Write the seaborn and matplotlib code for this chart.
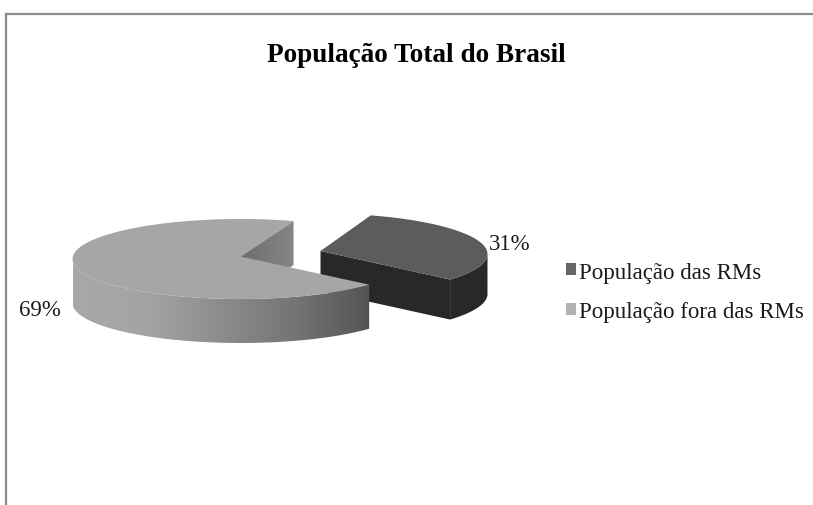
import numpy as np
import matplotlib
matplotlib.use("Agg")
import matplotlib.pyplot as plt
from matplotlib.patches import Polygon, Patch
import seaborn as sns

title = "População Total do Brasil"
categories = ["População das RMs", "População fora das RMs"]
shares = [31, 69]

sns.set_theme(style="white")
plt.rcParams["font.family"] = ["Liberation Serif", "DejaVu Serif"]

W, H = 813, 506
fig = plt.figure(figsize=(W / 100, H / 100), dpi=100)
L, T = 6, 15
ax = fig.add_axes([L / W, 0, (W - L) / W, (H - T) / H])
for side in ("right", "bottom"):
    ax.spines[side].set_visible(False)
for side in ("left", "top"):
    ax.spines[side].set_color("#8c8c8c")
    ax.spines[side].set_linewidth(1.6)
ax.set_xticks([])
ax.set_yticks([])

# layout of the two slices: first angle, ellipse centre, apex, radii, depth
STARTS = [17.5, 130.0]
CENTERS = [(320.5, 255.0), (240.5, 260.0)]
APEXES = [(320.5, 252.0), (240.5, 257.5)]
RXS = [167, 168]
RYS = [40.5, 40]
DEPTHS = [40, 44]
TOP_COL = ["#5c5c5c", "#a6a6a6"]


def arc(i, a0, a1, n=160):
    t = np.radians(np.linspace(a0, a1, n))
    c = CENTERS[i]
    return np.column_stack([c[0] + RXS[i] * np.sin(t), c[1] - RYS[i] * np.cos(t)])


def gradient(poly, cols, zorder):
    xs, ys = poly[:, 0], poly[:, 1]
    cmap = matplotlib.colors.LinearSegmentedColormap.from_list("g", sns.blend_palette(cols, 16))
    im = ax.imshow(np.linspace(0, 1, 256)[None, :], cmap=cmap, aspect="auto",
                   extent=(xs.min(), xs.max(), ys.max(), ys.min()), zorder=zorder)
    im.set_clip_path(Polygon(poly, transform=ax.transData))


sweeps = [s / sum(shares) * 360 for s in shares]

# slice of the metropolitan regions (behind)
i = 0
p, d = APEXES[i], DEPTHS[i]
a0, a1 = STARTS[i], STARTS[i] + sweeps[i]
rim = arc(i, 90, a1)
ax.add_patch(Polygon(np.vstack([rim, (rim + [0, d])[::-1]]), fc="#282828", ec="none", zorder=2))
end = arc(i, a1, a1, 1)[0]
ax.add_patch(Polygon([p, end, (end[0], end[1] + d), (p[0], p[1] + d)], fc="#282828", ec="none", zorder=2))
ax.add_patch(Polygon(np.vstack([[p], arc(i, a0, a1)]), fc=TOP_COL[i], ec="none", zorder=3))

# slice outside the metropolitan regions (front)
i = 1
p, d = APEXES[i], DEPTHS[i]
a0, a1 = STARTS[i], STARTS[i] + sweeps[i]
st = arc(i, a1, a1, 1)[0]
wall = np.array([p, st, (st[0], st[1] + d), (p[0], p[1] + d)])
gradient(wall, ["#6e6e6e", "#868686"], 4)
rim = arc(i, a0, 270)
gradient(np.vstack([rim, (rim + [0, d])[::-1]]), ["#a8a8a8", "#a4a4a4", "#8c8c8c", "#747474", "#555555"], 5)
ax.add_patch(Polygon(np.vstack([[p], arc(i, a0, a1)]), fc=TOP_COL[i], ec="none", zorder=6))

ax.set_xlim(L, W)
ax.set_ylim(H, T)

ax.text(416, 55, title, ha="center", va="center", fontsize=19.6, fontweight="bold", color="black")
ax.text(509.5, 245, f"{shares[0]}%", ha="center", va="center", fontsize=16.5, color="#1a1a1a")
ax.text(40, 310, f"{shares[1]}%", ha="center", va="center", fontsize=16.5, color="#1a1a1a")

handles = [Patch(fc="#666666", ec="none"), Patch(fc="#b2b2b2", ec="none")]
ax.legend(handles, categories, loc="center left", bbox_to_anchor=(566, 293), bbox_transform=ax.transData,
          frameon=False, fontsize=16.5, handlelength=0.42, handleheight=0.42, handletextpad=0.16,
          labelspacing=0.82, borderpad=0, borderaxespad=0, labelcolor="#1a1a1a")

fig.savefig("out.png", dpi=100, facecolor="white")
